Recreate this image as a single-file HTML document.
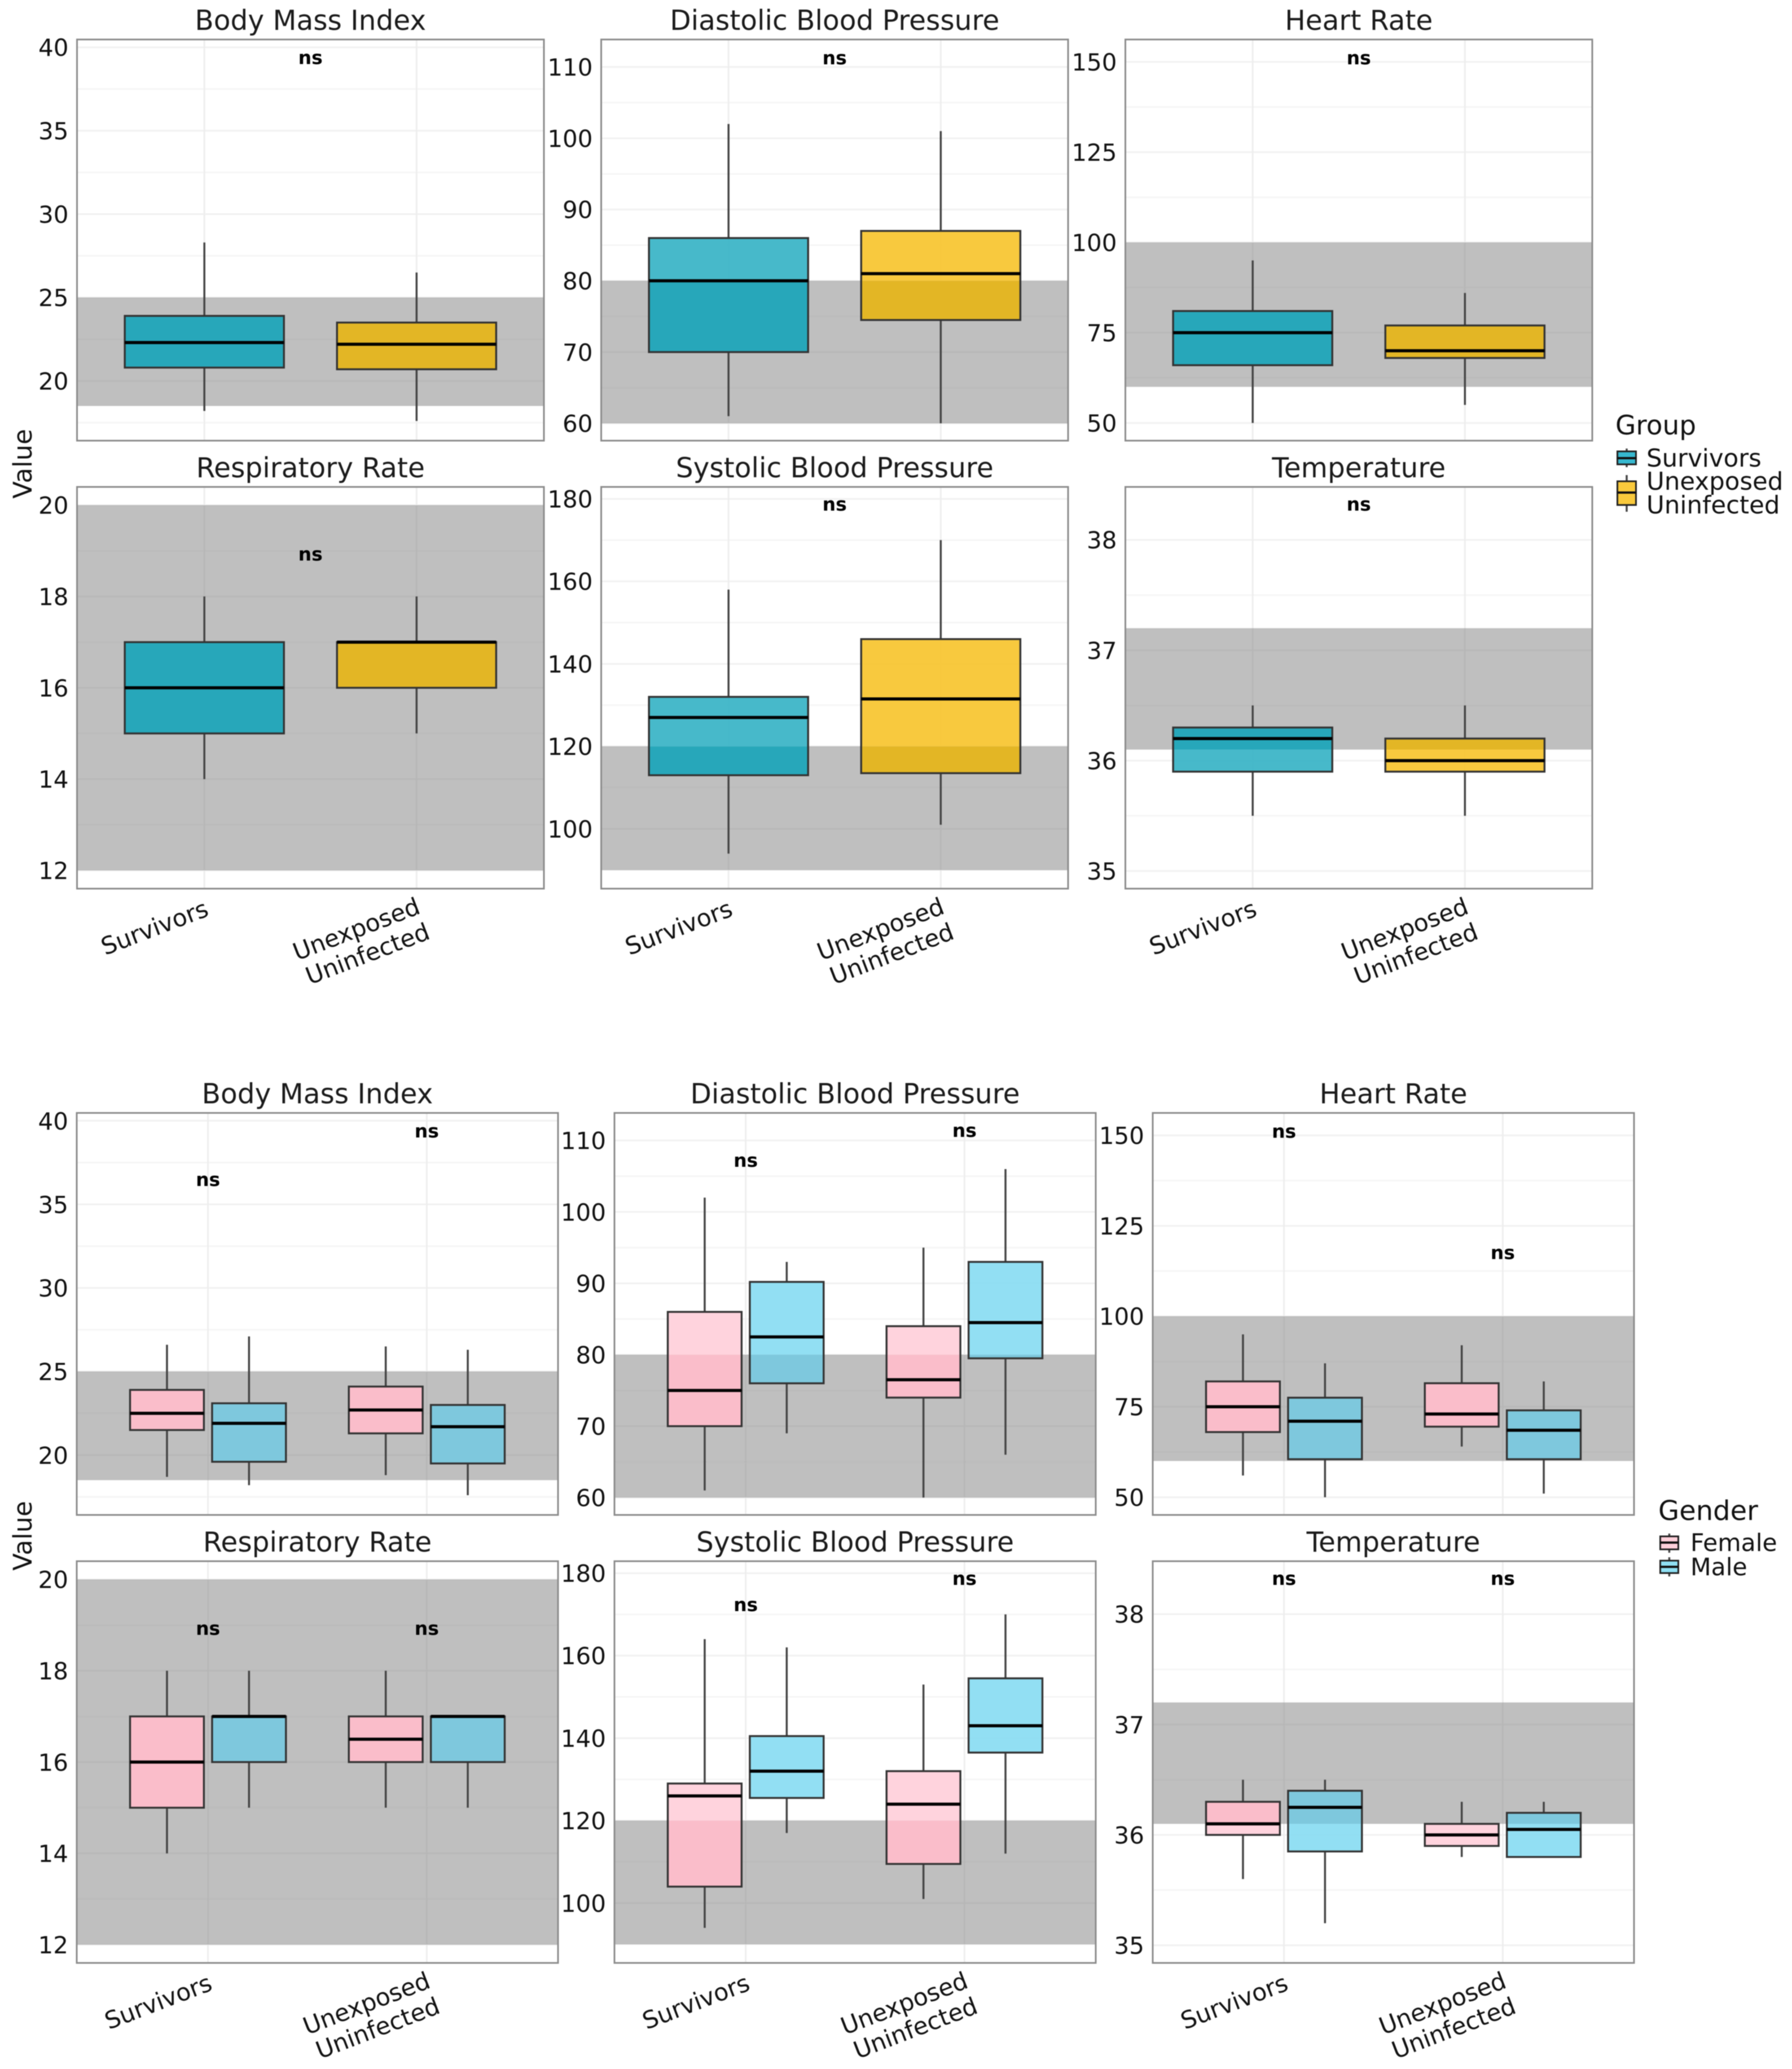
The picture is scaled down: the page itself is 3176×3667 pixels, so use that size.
<!DOCTYPE html>
<html lang="en">
<head>
<meta charset="utf-8">
<title>Vital signs by group and gender</title>
<style>
html,body{margin:0;padding:0;background:#fff;}
body{width:3176px;height:3667px;overflow:hidden;}
svg{display:block;font-family:"DejaVu Sans","Liberation Sans",sans-serif;filter:blur(0.7px);}
</style>
</head>
<body>
<svg id="chart" xmlns="http://www.w3.org/2000/svg" width="3176" height="3667" viewBox="0 0 3176 3667">
  <rect x="0" y="0" width="3176" height="3667" fill="#ffffff"/>
  <text transform="translate(56,822) rotate(-90)" text-anchor="middle" font-size="45" fill="#111">Value</text>
  <text transform="translate(56,2722) rotate(-90)" text-anchor="middle" font-size="45" fill="#111">Value</text>

  <g>
    <text x="2863" y="770" font-size="47" fill="#111">Group</text>
    <line x1="2883" x2="2883" y1="795" y2="828" stroke="#444" stroke-width="3.5"/>
    <rect x="2866.5" y="800" width="33" height="23" fill="#36b8cf" stroke="#222" stroke-width="3"/>
    <line x1="2866" x2="2900" y1="812" y2="812" stroke="#111" stroke-width="4"/>
    <text x="2918" y="827" font-size="43.5" fill="#111">Survivors</text>
    <line x1="2883" x2="2883" y1="842" y2="907" stroke="#444" stroke-width="3.5"/>
    <rect x="2866.5" y="853" width="33" height="42" fill="#f9c93c" stroke="#222" stroke-width="3"/>
    <line x1="2866" x2="2900" y1="873" y2="873" stroke="#111" stroke-width="4"/>
    <text x="2918" y="868" font-size="43.5" fill="#111">Unexposed</text>
    <text x="2918" y="910" font-size="43.5" fill="#111">Uninfected</text>
  </g>

  <g>
    <text x="2939" y="2694" font-size="48" fill="#111">Gender</text>
    <line x1="2958.5" x2="2958.5" y1="2718" y2="2752" stroke="#444" stroke-width="3.5"/>
    <rect x="2942.5" y="2723" width="32" height="23" fill="#ffd0da" stroke="#222" stroke-width="3"/>
    <line x1="2942" x2="2975" y1="2734" y2="2734" stroke="#111" stroke-width="4"/>
    <text x="2996" y="2749" font-size="42.5" fill="#111">Female</text>
    <line x1="2958.5" x2="2958.5" y1="2760" y2="2794" stroke="#444" stroke-width="3.5"/>
    <rect x="2942.5" y="2766" width="32" height="22" fill="#8fdff3" stroke="#222" stroke-width="3"/>
    <line x1="2942" x2="2975" y1="2777" y2="2777" stroke="#111" stroke-width="4"/>
    <text x="2996" y="2792" font-size="42.5" fill="#111">Male</text>
  </g>
</svg>

<script>
// ---- chart data (each box is [whisker low, q1, median, q3, whisker high]) ----
const panelTitles = ['Body Mass Index', 'Diastolic Blood Pressure', 'Heart Rate', 'Respiratory Rate', 'Systolic Blood Pressure', 'Temperature'];
const categories = ['Survivors', 'Unexposed\nUninfected'];
const yLimits = [[16.42, 40.47], [57.57, 113.86], [45.1, 156.2], [11.6, 20.4], [85.5, 182.9], [34.84, 38.48]];
const yTicks = [[20, 25, 30, 35, 40], [60, 70, 80, 90, 100, 110], [50, 75, 100, 125, 150], [12, 14, 16, 18, 20], [100, 120, 140, 160, 180], [35, 36, 37, 38]];
const normalRanges = [[18.5, 25], [60, 80], [60, 100], [12, 20], [90, 120], [36.1, 37.2]];

const topSurvivors = [
  [18.2, 20.8, 22.3, 23.9, 28.3],
  [61, 70, 80, 86, 102],
  [50, 66, 75, 81, 95],
  [14, 15, 16, 17, 18],
  [94, 113, 127, 132, 158],
  [35.5, 35.9, 36.2, 36.3, 36.5]
];
const topUnexposed = [
  [17.6, 20.7, 22.2, 23.5, 26.5],
  [60, 74.5, 81, 87, 101],
  [55, 68, 70, 77, 86],
  [15, 16, 17, 17, 18],
  [101, 113.5, 131.5, 146, 170],
  [35.5, 35.9, 36.0, 36.2, 36.5]
];
const topNsValues = [39.3, 111.1, 150.7, 18.9, 178.4, 38.31];

const femaleSurvivors = [
  [18.7, 21.5, 22.5, 23.9, 26.6],
  [61, 70, 75, 86, 102],
  [56, 68, 75, 82, 95],
  [14, 15, 16, 17, 18],
  [94, 104, 126, 129, 164],
  [35.6, 36.0, 36.1, 36.3, 36.5]
];
const maleSurvivors = [
  [18.2, 19.6, 21.9, 23.1, 27.1],
  [69, 76, 82.5, 90.2, 93],
  [50, 60.5, 71, 77.5, 87],
  [15, 16, 17, 17, 18],
  [117, 125.5, 132, 140.5, 162],
  [35.2, 35.85, 36.25, 36.4, 36.5]
];
const femaleUnexposed = [
  [18.8, 21.3, 22.7, 24.1, 26.5],
  [60, 74, 76.5, 84, 95],
  [64, 69.5, 73, 81.5, 92],
  [15, 16, 16.5, 17, 18],
  [101, 109.5, 124, 132, 153],
  [35.8, 35.9, 36.0, 36.1, 36.3]
];
const maleUnexposed = [
  [17.6, 19.5, 21.7, 23.0, 26.3],
  [66, 79.5, 84.5, 93, 106],
  [51, 60.5, 68.5, 74, 82],
  [15, 16, 17, 17, 17],
  [112, 136.5, 143, 154.5, 170],
  [35.8, 35.8, 36.05, 36.2, 36.3]
];
const bottomNsSurvivors = [36.4, 107, 150.7, 18.9, 172, 38.31];
const bottomNsUnexposed = [39.3, 111.2, 117.2, 18.9, 178.4, 38.31];

// ---- rendering ----
const NS = 'http://www.w3.org/2000/svg';
const svg = document.getElementById('chart');
function mk(tag, attrs, parent) {
  const e = document.createElementNS(NS, tag);
  for (const k in attrs) e.setAttribute(k, attrs[k]);
  parent.appendChild(e);
  return e;
}

const panelW = { top: 827.5, bottom: 853 };
const panelLeftTop = [136.5, 1065.5, 1994.5];
const panelLeftBottom = [136, 1089, 2043];
const panelRowsTop = [[70, 781], [863, 1575]];
const panelRowsBottom = [[1972.5, 2685], [2767, 3479]];
const SERIES_STYLE = {
  survivors: { plain: '#37b3c6', banded: '#1aa5ba' },
  unexposed: { plain: '#f7c42e', banded: '#e6b518' },
  female: { plain: '#ffcfda', banded: '#ffbdcb' },
  male: { plain: '#89dcf2', banded: '#78c9e0' }
};

function drawBox(g, xScale, yScale, pos, width, v, band, style, name) {
  const lo = v[0], q1 = v[1], med = v[2], q3 = v[3], hi = v[4];
  const cx = xScale(pos);
  const x0 = xScale(pos - width / 2), x1 = xScale(pos + width / 2);
  const wl = mk('line', { x1: cx, x2: cx, y1: yScale(lo), y2: yScale(q1), stroke: '#444', 'stroke-width': 3.5 }, g);
  
  
  const wh = mk('line', { x1: cx, x2: cx, y1: yScale(q3), y2: yScale(hi), stroke: '#444', 'stroke-width': 3.5 }, g);
  
  
  // box fill is split where it crosses the normal-range band (the two parts have distinct tints)
  const parts = [
    [Math.max(q1, band[1]), q3, style.plain],
    [Math.max(q1, band[0]), Math.min(q3, band[1]), style.banded],
    [q1, Math.min(q3, band[0]), style.plain]
  ];
  parts.forEach(p => {
    if (p[1] <= p[0]) return;
    const f = mk('rect', { x: x0, y: yScale(p[1]), width: x1 - x0, height: yScale(p[0]) - yScale(p[1]), fill: p[2], 'fill-opacity': 0.92 }, g);
    
    
  });
  const r = mk('rect', { x: x0, y: yScale(q3), width: x1 - x0, height: yScale(q1) - yScale(q3), fill: 'none', stroke: '#333', 'stroke-width': 3.4 }, g);
  
  
  const m = mk('line', { x1: x0, x2: x1, y1: yScale(med), y2: yScale(med), stroke: '#000', 'stroke-width': 5.5 }, g);
  
  
}

function drawPanel(section, idx, left, width, top, bottom) {
  const lim = yLimits[idx], ticks = yTicks[idx], band = normalRanges[idx];
  const yScale = v => bottom - (v - lim[0]) / (lim[1] - lim[0]) * (bottom - top);
  const xScale = v => left + (v - 0.4) / 2.2 * width;
  const slug = panelTitles[idx].toLowerCase().replace(/ /g, '-');

  const g = mk('g', {}, svg);
  
  

  const title = mk('text', { x: left + width / 2, y: top - 17, 'text-anchor': 'middle', 'font-size': 48.6, fill: '#1a1a1a' }, g);
  title.textContent = panelTitles[idx];
  
  

  // minor gridlines at tick midpoints
  const step = ticks[1] - ticks[0];
  for (let t = ticks[0] - step / 2; t < lim[1]; t += step) {
    if (t <= lim[0]) continue;
    const l = mk('line', { x1: left, x2: left + width, y1: yScale(t), y2: yScale(t), stroke: '#f6f6f6', 'stroke-width': 3 }, g);
    
    
  }
  ticks.forEach(t => {
    const l = mk('line', { x1: left, x2: left + width, y1: yScale(t), y2: yScale(t), stroke: '#f1f1f1', 'stroke-width': 3 }, g);
    
    
    const lab = mk('text', { x: left - 15, y: yScale(t), dy: '0.365em', 'text-anchor': 'end', 'font-size': 42, fill: '#111' }, g);
    lab.textContent = t;
    
    
  });
  categories.forEach((c, i) => {
    const l = mk('line', { x1: xScale(i + 1), x2: xScale(i + 1), y1: top, y2: bottom, stroke: '#eeeeee', 'stroke-width': 3 }, g);
    
    
  });

  const b = mk('rect', { x: left, width: width, y: yScale(band[1]), height: yScale(band[0]) - yScale(band[1]), fill: '#808080', 'fill-opacity': 0.5 }, g);
  
  

  if (section === 'top') {
    drawBox(g, xScale, yScale, 1, 0.75, topSurvivors[idx], band, SERIES_STYLE.survivors, 'survivors');
    drawBox(g, xScale, yScale, 2, 0.75, topUnexposed[idx], band, SERIES_STYLE.unexposed, 'unexposed-uninfected');
    const ns = mk('text', { x: xScale(1.5), y: yScale(topNsValues[idx]), dy: '0.27em', 'text-anchor': 'middle', 'font-size': 33, 'font-weight': 'bold', fill: '#000' }, g);
    ns.textContent = 'ns';
    
    
  } else {
    drawBox(g, xScale, yScale, 1 - 0.1875, 0.3375, femaleSurvivors[idx], band, SERIES_STYLE.female, 'female-survivors');
    drawBox(g, xScale, yScale, 1 + 0.1875, 0.3375, maleSurvivors[idx], band, SERIES_STYLE.male, 'male-survivors');
    drawBox(g, xScale, yScale, 2 - 0.1875, 0.3375, femaleUnexposed[idx], band, SERIES_STYLE.female, 'female-unexposed');
    drawBox(g, xScale, yScale, 2 + 0.1875, 0.3375, maleUnexposed[idx], band, SERIES_STYLE.male, 'male-unexposed');
    const nsA = mk('text', { x: xScale(1), y: yScale(bottomNsSurvivors[idx]), dy: '0.27em', 'text-anchor': 'middle', 'font-size': 33, 'font-weight': 'bold', fill: '#000' }, g);
    nsA.textContent = 'ns';
    
    
    const nsB = mk('text', { x: xScale(2), y: yScale(bottomNsUnexposed[idx]), dy: '0.27em', 'text-anchor': 'middle', 'font-size': 33, 'font-weight': 'bold', fill: '#000' }, g);
    nsB.textContent = 'ns';
    
    
  }

  const border = mk('rect', { x: left, y: top, width: width, height: bottom - top, fill: 'none', stroke: '#8c8c8c', 'stroke-width': 3 }, g);
  
  

  // x labels only on the lower row of each section
  if (idx >= 3) {
    categories.forEach((c, i) => {
      const lines = c.split('\n');
      const lx = xScale(i + 1) + (lines.length > 1 ? 9 : 10);
      const ly = bottom + (lines.length > 1 ? 43 : 47);
      const t = mk('text', { transform: 'translate(' + lx + ',' + ly + ') rotate(-21)', 'text-anchor': 'end', 'font-size': 42.5, fill: '#111' }, g);
      
      
      lines.forEach((ln, k) => {
        const s = mk('tspan', { x: 0, y: k * 48 }, t);
        s.textContent = ln;
      });
    });
  }
}

for (let i = 0; i < 6; i++) {
  const col = i % 3, row = Math.floor(i / 3);
  drawPanel('top', i, panelLeftTop[col], panelW.top, panelRowsTop[row][0], panelRowsTop[row][1]);
  drawPanel('bottom', i, panelLeftBottom[col], panelW.bottom, panelRowsBottom[row][0], panelRowsBottom[row][1]);
}
</script>
</body>
</html>
